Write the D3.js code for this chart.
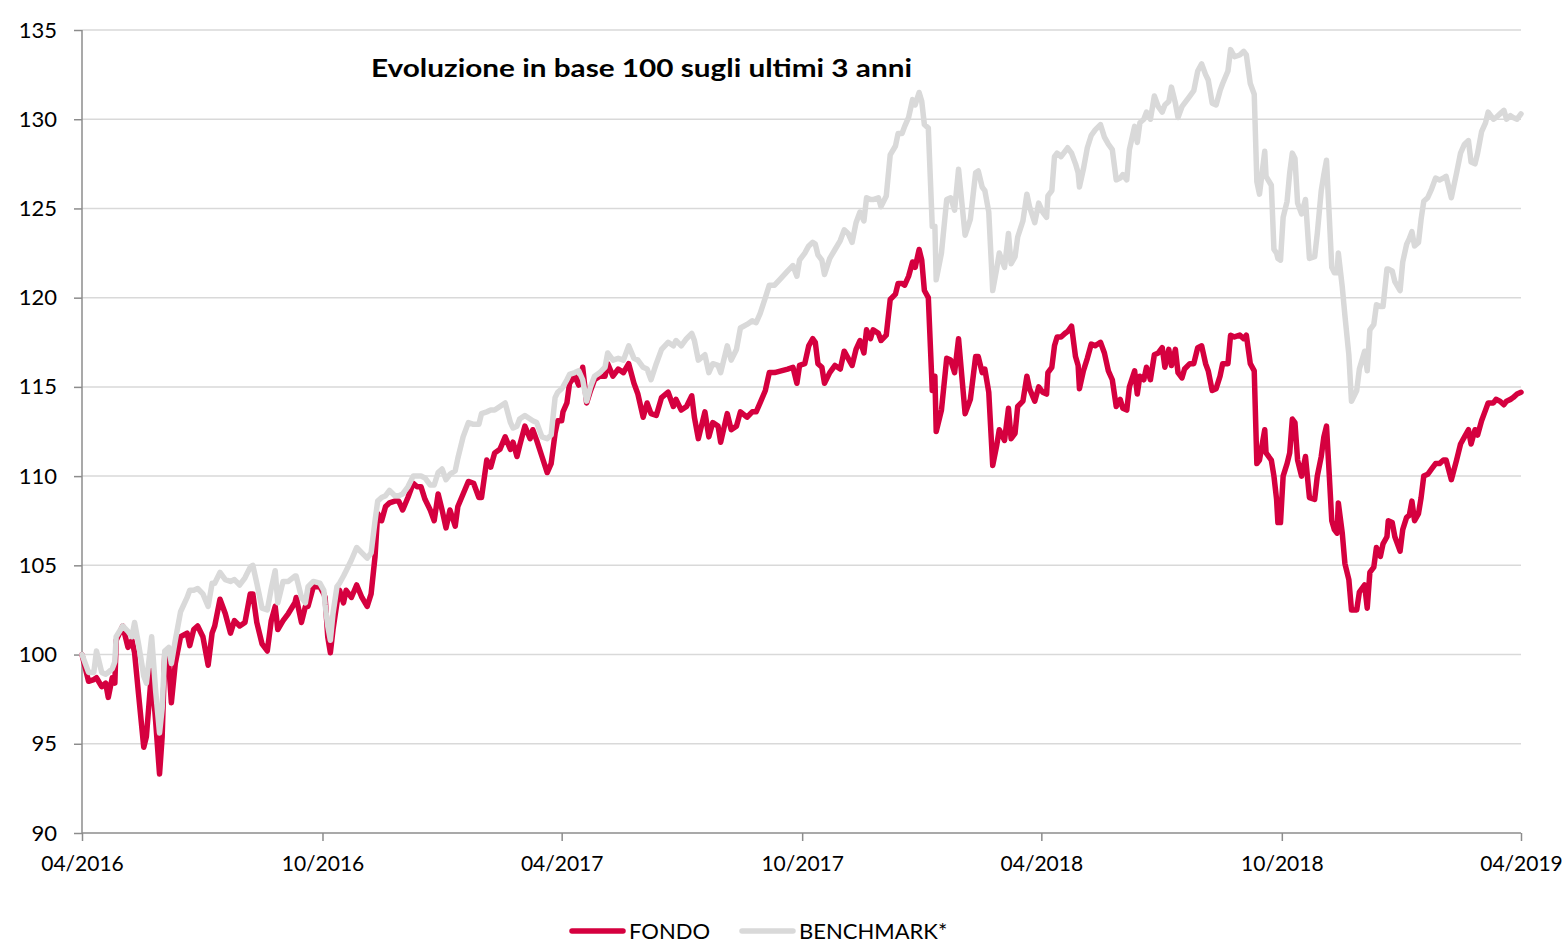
<!DOCTYPE html>
<html>
<head>
<meta charset="utf-8">
<script src="https://cdn.jsdelivr.net/npm/d3@7"></script>
<style>
  body { margin: 0; background: #fff; }
  svg text { font-family: Lato, "Open Sans", sans-serif; fill: #000; }
</style>
</head>
<body>
<div id="chart"></div>
<script>
const dates = [
  "2016-04-01","2016-04-06","2016-04-10","2016-04-12","2016-04-16","2016-04-19","2016-04-21","2016-04-24","2016-04-26","2016-04-27",
  "2016-05-02","2016-05-06","2016-05-09","2016-05-11","2016-05-14","2016-05-18","2016-05-20","2016-05-24","2016-05-27","2016-05-30",
  "2016-06-01","2016-06-03","2016-06-06","2016-06-08","2016-06-11","2016-06-15","2016-06-20","2016-06-22","2016-06-25","2016-06-28",
  "2016-07-02","2016-07-06","2016-07-09","2016-07-11","2016-07-15","2016-07-19","2016-07-23","2016-07-26","2016-07-30","2016-08-03",
  "2016-08-07","2016-08-09","2016-08-12","2016-08-16","2016-08-20","2016-08-23","2016-08-26","2016-08-28","2016-09-01","2016-09-05",
  "2016-09-10","2016-09-11","2016-09-15","2016-09-18","2016-09-20","2016-09-24","2016-09-29","2016-10-02","2016-10-03","2016-10-05",
  "2016-10-07","2016-10-09","2016-10-12","2016-10-14","2016-10-17","2016-10-19","2016-10-23","2016-10-27","2016-10-31","2016-11-04",
  "2016-11-07","2016-11-10","2016-11-12","2016-11-15","2016-11-18","2016-11-21","2016-11-25","2016-11-28","2016-12-01","2016-12-05",
  "2016-12-09","2016-12-12","2016-12-15","2016-12-18","2016-12-22","2016-12-25","2016-12-28","2016-12-31","2017-01-03","2017-01-06",
  "2017-01-10","2017-01-12","2017-01-16","2017-01-20","2017-01-24","2017-01-28","2017-01-30","2017-02-03","2017-02-06","2017-02-09",
  "2017-02-13","2017-02-17","2017-02-21","2017-02-23","2017-02-26","2017-02-28","2017-03-04","2017-03-08","2017-03-10","2017-03-13",
  "2017-03-17","2017-03-21","2017-03-24","2017-03-27","2017-03-29","2017-04-01","2017-04-02","2017-04-05","2017-04-07","2017-04-11",
  "2017-04-14","2017-04-17","2017-04-20","2017-04-23","2017-04-26","2017-04-30","2017-05-04","2017-05-06","2017-05-10","2017-05-14",
  "2017-05-18","2017-05-22","2017-05-26","2017-05-29","2017-06-02","2017-06-05","2017-06-08","2017-06-12","2017-06-16","2017-06-21",
  "2017-06-25","2017-06-27","2017-07-01","2017-07-05","2017-07-09","2017-07-11","2017-07-14","2017-07-19","2017-07-22","2017-07-25",
  "2017-07-29","2017-07-31","2017-08-05","2017-08-08","2017-08-12","2017-08-15","2017-08-20","2017-08-24","2017-08-27","2017-08-30",
  "2017-09-03","2017-09-06","2017-09-10","2017-09-15","2017-09-20","2017-09-24","2017-09-27","2017-09-29","2017-10-03","2017-10-06",
  "2017-10-09","2017-10-11","2017-10-13","2017-10-16","2017-10-18","2017-10-22","2017-10-26","2017-10-30","2017-11-02","2017-11-05",
  "2017-11-08","2017-11-11","2017-11-14","2017-11-17","2017-11-19","2017-11-22","2017-11-24","2017-11-28","2017-11-30","2017-12-04",
  "2017-12-07","2017-12-11","2017-12-13","2017-12-16","2017-12-18","2017-12-21","2017-12-24","2017-12-26","2017-12-29","2017-12-31",
  "2018-01-02","2018-01-05","2018-01-08","2018-01-10","2018-01-11","2018-01-15","2018-01-19","2018-01-22","2018-01-25","2018-01-28",
  "2018-02-02","2018-02-06","2018-02-10","2018-02-12","2018-02-15","2018-02-17","2018-02-20","2018-02-23","2018-02-26","2018-02-28",
  "2018-03-04","2018-03-07","2018-03-09","2018-03-12","2018-03-14","2018-03-18","2018-03-21","2018-03-23","2018-03-27","2018-03-30",
  "2018-04-02","2018-04-05","2018-04-06","2018-04-09","2018-04-11","2018-04-13","2018-04-16","2018-04-19","2018-04-21","2018-04-24",
  "2018-04-27","2018-04-29","2018-04-30","2018-05-03","2018-05-06","2018-05-09","2018-05-12","2018-05-16","2018-05-19","2018-05-22",
  "2018-05-25","2018-05-28","2018-05-31","2018-06-02","2018-06-05","2018-06-07","2018-06-11","2018-06-13","2018-06-15","2018-06-18",
  "2018-06-20","2018-06-23","2018-06-26","2018-06-29","2018-07-02","2018-07-04","2018-07-07","2018-07-09","2018-07-12","2018-07-14",
  "2018-07-17","2018-07-19","2018-07-23","2018-07-26","2018-07-29","2018-08-01","2018-08-04","2018-08-06","2018-08-09","2018-08-12",
  "2018-08-15","2018-08-17","2018-08-21","2018-08-23","2018-08-26","2018-08-30","2018-09-02","2018-09-04","2018-09-07","2018-09-10",
  "2018-09-12","2018-09-14","2018-09-18","2018-09-19","2018-09-23","2018-09-25","2018-09-27","2018-09-28","2018-09-30","2018-10-02",
  "2018-10-05","2018-10-07","2018-10-09","2018-10-11","2018-10-13","2018-10-16","2018-10-19","2018-10-22","2018-10-26","2018-10-28",
  "2018-10-31","2018-11-02","2018-11-04","2018-11-06","2018-11-08","2018-11-10","2018-11-12","2018-11-13","2018-11-16","2018-11-18",
  "2018-11-21","2018-11-23","2018-11-27","2018-11-29","2018-12-03","2018-12-05","2018-12-07","2018-12-10","2018-12-12","2018-12-15",
  "2018-12-17","2018-12-20","2018-12-21","2018-12-24","2018-12-26","2018-12-30","2019-01-01","2019-01-04","2019-01-06","2019-01-08",
  "2019-01-10","2019-01-13","2019-01-15","2019-01-17","2019-01-20","2019-01-23","2019-01-26","2019-01-29","2019-02-01","2019-02-03",
  "2019-02-07","2019-02-11","2019-02-14","2019-02-17","2019-02-20","2019-02-22","2019-02-25","2019-02-27","2019-03-02","2019-03-05",
  "2019-03-07","2019-03-11","2019-03-13","2019-03-16","2019-03-19","2019-03-21","2019-03-24","2019-03-26","2019-03-29","2019-04-01"
];

const fondo = [
  100.0,98.5,98.6,98.7,98.2,98.4,97.6,98.7,98.4,100.8,
  101.6,100.4,100.8,100.1,97.8,94.8,95.4,99.1,96.3,93.3,
  95.4,100.1,99.5,97.3,99.5,101.0,101.2,100.5,101.4,101.6,
  101.0,99.4,101.2,101.6,103.1,102.3,101.2,101.9,101.6,101.8,
  103.4,103.4,101.8,100.6,100.2,101.9,102.7,101.4,101.9,102.3,
  102.9,103.2,101.8,102.7,102.7,103.8,103.8,103.4,103.2,101.0,
  100.1,101.4,102.9,103.6,102.9,103.6,103.2,103.9,103.2,102.7,
  103.4,105.5,107.9,107.5,108.3,108.5,108.6,108.6,108.1,108.8,
  109.6,109.4,109.4,108.7,108.1,107.5,109.0,108.1,107.1,108.1,
  107.2,108.3,109.0,109.7,109.6,108.8,108.8,110.9,110.5,111.3,
  111.5,112.2,111.5,111.9,111.1,111.7,112.8,112.1,112.6,112.0,
  111.1,110.2,110.7,112.4,113.1,113.1,113.6,114.1,115.2,115.6,
  115.1,116.1,114.1,114.8,115.4,115.6,115.6,116.3,115.6,116.0,
  115.8,116.3,115.2,114.6,113.3,114.1,113.5,113.4,114.4,114.7,
  113.9,114.3,113.7,113.9,114.5,113.3,112.1,113.6,112.2,113.0,
  112.8,111.9,113.5,112.6,112.8,113.6,113.3,113.6,113.6,114.1,
  114.8,115.8,115.8,115.9,116.0,116.1,115.2,116.2,116.3,117.3,
  117.7,117.5,116.3,116.1,115.2,115.8,116.2,116.0,117.0,116.6,
  116.2,117.1,117.6,116.9,118.2,117.7,118.2,118.0,117.6,117.9,
  119.9,120.2,120.8,120.8,120.7,121.2,122.0,121.7,122.7,122.1,
  120.4,120.0,114.8,115.6,112.5,113.7,116.6,116.5,115.8,117.7,
  113.5,114.3,116.7,116.7,115.8,116.0,114.7,110.6,111.7,112.6,
  112.0,113.8,112.1,112.4,113.9,114.2,115.6,114.9,114.2,115.0,
  114.7,114.6,115.8,116.1,117.3,117.8,117.8,118.0,118.1,118.4,
  116.7,116.2,114.9,115.9,116.6,117.4,117.3,117.5,116.9,115.9,
  115.4,113.9,114.3,113.8,113.7,115.0,115.9,114.6,115.6,115.4,
  116.1,115.4,116.8,116.9,117.2,116.1,117.1,116.2,117.1,115.8,
  115.5,116.0,116.3,116.3,117.2,117.3,116.3,115.9,114.8,114.9,
  115.6,116.3,116.3,117.9,117.8,117.9,117.7,117.9,116.3,115.9,
  110.7,110.9,112.6,111.3,110.9,110.0,108.7,107.4,107.4,110.0,
  110.7,111.3,113.2,113.0,110.9,110.0,111.1,108.8,108.7,110.0,
  111.1,112.2,112.8,110.2,107.5,107.0,106.8,108.5,106.8,105.1,
  104.2,102.5,102.5,103.5,103.9,102.6,104.6,104.9,106.0,105.5,
  106.2,106.6,107.5,107.4,106.6,105.8,107.0,107.7,107.8,108.6,
  107.5,107.9,108.8,110.0,110.1,110.4,110.7,110.7,110.9,110.9,
  109.8,110.9,111.8,112.2,112.6,111.8,112.6,112.3,113.1,113.7,
  114.1,114.1,114.3,114.2,114.0,114.2,114.3,114.4,114.6,114.7
];

const benchmark = [
  100.0,99.0,99.0,100.2,99.0,98.9,99.0,99.2,99.6,101.0,
  101.6,101.3,101.0,101.8,100.6,98.8,98.4,101.0,98.0,95.6,
  97.0,100.2,100.4,99.5,100.8,102.4,103.2,103.6,103.6,103.7,
  103.4,102.7,104.0,104.0,104.6,104.2,104.1,104.2,103.9,104.3,
  104.9,105.0,104.0,102.6,102.5,103.7,104.7,102.9,104.1,104.1,
  104.4,104.4,103.2,102.9,103.8,104.1,104.0,103.6,102.8,101.6,
  100.8,102.3,103.8,104.0,104.4,104.7,105.3,106.0,105.7,105.4,
  105.7,107.5,108.6,108.8,108.9,109.2,108.9,108.9,109.0,109.4,
  110.0,110.0,110.0,109.9,109.5,109.5,110.2,110.4,109.8,110.1,
  110.3,111.0,112.2,113.0,112.9,112.9,113.5,113.6,113.7,113.7,
  113.9,114.1,113.0,112.7,112.8,113.2,113.4,113.2,113.1,113.0,
  112.2,112.1,112.3,114.4,114.7,114.9,115.0,115.4,115.7,115.8,
  115.9,115.4,114.2,115.0,115.6,115.8,116.1,116.9,116.5,116.6,
  116.5,117.3,116.6,116.5,116.1,116.0,115.4,116.3,117.1,117.5,
  117.3,117.6,117.3,117.7,118.0,117.6,116.5,116.8,115.8,116.3,
  116.2,115.8,117.3,116.5,117.1,118.3,118.5,118.7,118.6,119.1,
  120.0,120.7,120.7,121.1,121.5,121.8,121.2,122.1,122.5,122.9,
  123.1,123.0,122.4,122.1,121.3,122.2,122.7,123.2,123.8,123.6,
  123.1,124.2,124.8,124.3,125.6,125.5,125.5,125.6,125.1,125.7,
  128.0,128.5,129.2,129.2,129.6,130.1,131.1,130.8,131.5,131.0,
  129.7,129.5,124.0,124.0,121.0,122.5,125.5,125.6,124.9,127.2,
  123.5,124.4,127.0,127.1,126.2,126.0,124.8,120.4,121.6,122.5,
  121.7,123.6,121.9,122.3,123.4,124.3,125.8,125.1,124.2,125.3,
  124.8,124.5,125.7,126.0,127.9,128.1,127.9,128.2,128.4,128.1,
  127.5,127.0,126.2,127.2,128.4,129.1,129.4,129.7,129.0,128.6,
  128.3,126.6,126.7,126.9,126.6,128.3,129.6,128.7,129.8,130.0,
  130.4,130.0,131.3,130.7,130.4,130.8,131.0,131.8,130.9,130.1,
  130.7,130.9,131.3,131.6,132.7,133.1,132.5,132.2,130.9,130.8,
  131.6,132.0,132.7,133.9,133.5,133.6,133.8,133.6,132.0,131.4,
  126.5,125.8,128.2,126.8,126.3,122.7,122.5,122.2,122.1,124.5,
  125.4,127.0,128.1,127.8,125.3,124.7,125.5,122.2,122.3,123.6,
  126.0,126.9,127.7,124.7,121.7,121.4,121.4,122.5,120.6,119.0,
  116.8,114.2,114.8,116.0,117.0,115.9,118.2,118.5,119.6,119.5,
  119.5,121.6,121.6,121.5,120.9,120.4,122.0,123.0,123.3,123.7,
  122.9,123.1,124.4,125.4,125.6,126.1,126.7,126.6,126.7,126.8,
  125.6,127.0,128.1,128.6,128.8,127.6,127.5,128.1,129.3,129.8,
  130.4,130.0,130.1,130.3,130.5,130.0,130.2,130.1,130.0,130.3
];

const yTicks = [90, 95, 100, 105, 110, 115, 120, 125, 130, 135];
const xTicks = ["2016-04-01", "2016-10-01", "2017-04-01", "2017-10-01", "2018-04-01", "2018-10-01", "2019-04-01"];
const seriesNames = ["FONDO", "BENCHMARK*"];
const title = "Evoluzione in base 100 sugli ultimi 3 anni";

const colors = { fondo: "#d5003f", bench: "#d9d9d9", grid: "#d9d9d9", axis: "#8c8c8c" };

const width = 1563;
const height = 943;
const margin = { top: 30, right: 42, bottom: 110, left: 82 };
const innerW = width - margin.left - margin.right;
const innerH = height - margin.top - margin.bottom;

const parse = d3.timeParse("%Y-%m-%d");
const dateObjs = dates.map(parse);

const svg = d3.select("#chart").append("svg")
  .attr("width", width)
  .attr("height", height);

const g = svg.append("g")
  .attr("transform", "translate(" + margin.left + "," + margin.top + ")");

const x = d3.scaleTime()
  .domain([parse(xTicks[0]), parse(xTicks[xTicks.length - 1])])
  .range([0, innerW]);

const y = d3.scaleLinear()
  .domain([90, 135])
  .range([innerH, 0]);

// horizontal gridlines
g.append("g")
  .attr("class", "grid")
  .selectAll("line")
  .data(yTicks.filter((t) => t > 90))
  .join("line")
  .attr("x1", 0)
  .attr("x2", innerW)
  .attr("y1", (d) => y(d))
  .attr("y2", (d) => y(d))
  .attr("stroke", colors.grid)
  .attr("stroke-width", 1.5);

// axes
const yAxis = d3.axisLeft(y).tickValues(yTicks).tickSize(8).tickPadding(8);
const xAxis = d3.axisBottom(x)
  .tickValues(xTicks.map(parse))
  .tickFormat(d3.timeFormat("%m/%Y"))
  .tickSize(8)
  .tickPadding(10);

const yG = g.append("g").attr("class", "y-axis").call(yAxis);
const xG = g.append("g")
  .attr("class", "x-axis")
  .attr("transform", "translate(0," + innerH + ")")
  .call(xAxis);

[yG, xG].forEach((ax) => {
  ax.select(".domain").attr("stroke", colors.axis).attr("stroke-width", 1.5);
  ax.selectAll(".tick line").attr("stroke", colors.axis).attr("stroke-width", 1.5);
  ax.selectAll(".tick text")
    .attr("font-family", "Lato, 'Open Sans', sans-serif")
    .attr("font-size", 21)
    .attr("fill", "#000");
});
yG.selectAll(".tick text").attr("x", -25).attr("font-size", 22);
xG.selectAll(".tick text").attr("dy", "0.95em");

// axis lines without outer ticks
yG.select(".domain").attr("d", "M0," + innerH + "V0");
xG.select(".domain").attr("d", "M0,0H" + innerW);

// lines
const line = (vals) => d3.line()
  .x((d, i) => x(dateObjs[i]))
  .y((d) => y(d))(vals);

g.append("path")
  .attr("class", "fondo")
  .attr("d", line(fondo))
  .attr("fill", "none")
  .attr("stroke", colors.fondo)
  .attr("stroke-width", 5.5)
  .attr("stroke-linejoin", "round")
  .attr("stroke-linecap", "round");

g.append("path")
  .attr("class", "benchmark")
  .attr("d", line(benchmark))
  .attr("fill", "none")
  .attr("stroke", colors.bench)
  .attr("stroke-width", 5.5)
  .attr("stroke-linejoin", "round")
  .attr("stroke-linecap", "round");

// title
svg.append("text")
  .attr("x", 371)
  .attr("y", 77)
  .attr("font-size", 24)
  .attr("font-weight", "bold")
  .attr("textLength", 541)
  .attr("lengthAdjust", "spacingAndGlyphs")
  .text(title);

// legend
const legend = svg.append("g").attr("class", "legend");
const legendItems = [
  { name: seriesNames[0], color: colors.fondo, x: 572 },
  { name: seriesNames[1], color: colors.bench, x: 742 }
];
legendItems.forEach((it) => {
  legend.append("line")
    .attr("x1", it.x)
    .attr("x2", it.x + 51)
    .attr("y1", 931)
    .attr("y2", 931)
    .attr("stroke", it.color)
    .attr("stroke-width", 5.5)
    .attr("stroke-linecap", "round");
  legend.append("text")
    .attr("x", it.x + 57)
    .attr("y", 939)
    .attr("font-size", 22)
    .text(it.name);
});
</script>
</body>
</html>
